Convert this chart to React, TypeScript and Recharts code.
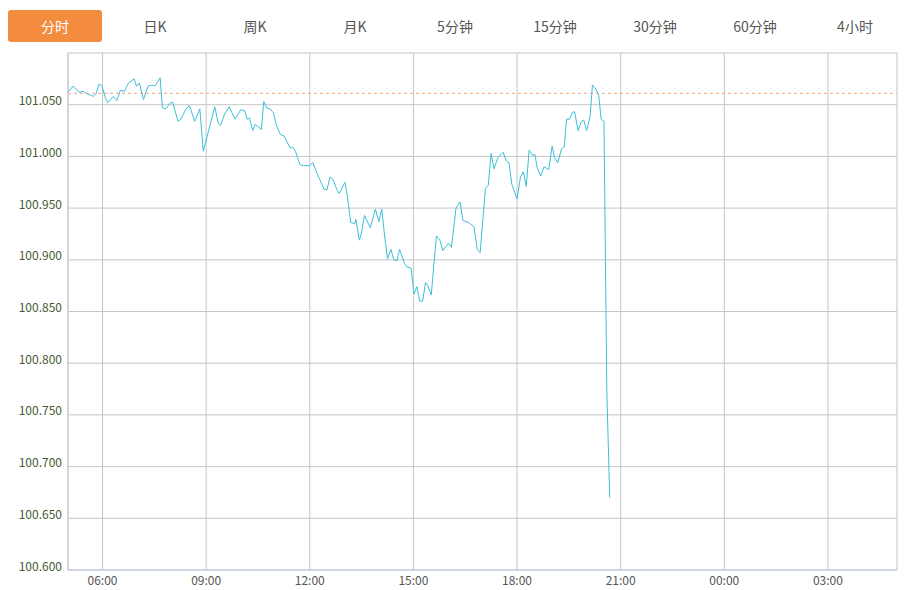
import React from 'react'
import {
  LineChart, Line, XAxis, YAxis, CartesianGrid, ReferenceLine,
} from 'recharts'

/* ────────────────────────────────────────────────────────
   Data (intraday, 05:00 → 05:00 next day)
───────────────────────────────────────────────────────── */
const TABS = ['分时', '日K', '周K', '月K', '5分钟', '15分钟', '30分钟', '60分钟', '4小时']

const times = [
  '05:00', '05:09', '05:19', '05:26', '05:32', '05:44', '05:49', '05:54', '05:59', '06:04',
  '06:09', '06:19', '06:25', '06:31', '06:38', '06:45', '06:55', '06:59', '07:04', '07:11',
  '07:19', '07:26', '07:31', '07:40', '07:44', '07:50', '07:58', '08:02', '08:11', '08:16',
  '08:25', '08:31', '08:40', '08:49', '08:55', '09:15', '09:21', '09:25', '09:32', '09:40',
  '09:50', '10:00', '10:07', '10:11', '10:15', '10:21', '10:25', '10:36', '10:40', '10:45',
  '10:51', '10:57', '11:02', '11:09', '11:15', '11:26', '11:30', '11:35', '11:43', '11:49',
  '12:00', '12:05', '12:17', '12:25', '12:30', '12:35', '12:40', '12:47', '12:51', '13:01',
  '13:05', '13:11', '13:18', '13:20', '13:26', '13:29', '13:35', '13:45', '13:54', '14:00',
  '14:05', '14:10', '14:15', '14:21', '14:26', '14:31', '14:36', '14:45', '14:49', '14:56',
  '15:01', '15:06', '15:11', '15:16', '15:21', '15:25', '15:31', '15:40', '15:46', '15:51',
  '16:01', '16:06', '16:14', '16:21', '16:26', '16:36', '16:45', '16:51', '16:56', '17:05',
  '17:10', '17:15', '17:20', '17:27', '17:36', '17:41', '17:46', '17:51', '18:00', '18:06',
  '18:11', '18:16', '18:21', '18:27', '18:31', '18:35', '18:41', '18:47', '18:55', '19:01',
  '19:05', '19:11', '19:17', '19:22', '19:26', '19:31', '19:37', '19:40', '19:46', '19:52',
  '19:56', '20:01', '20:07', '20:11', '20:17', '20:22', '20:26', '20:31', '20:36', '20:41',
]

const prices = [
  101.062, 101.068, 101.062, 101.063, 101.061, 101.058, 101.061, 101.070, 101.068, 101.058,
  101.052, 101.058, 101.054, 101.064, 101.063, 101.071, 101.075, 101.068, 101.071, 101.055,
  101.068, 101.069, 101.068, 101.076, 101.047, 101.046, 101.052, 101.052, 101.034, 101.036,
  101.046, 101.049, 101.034, 101.046, 101.005, 101.048, 101.032, 101.030, 101.041, 101.048,
  101.036, 101.045, 101.044, 101.036, 101.037, 101.025, 101.031, 101.026, 101.053, 101.047,
  101.046, 101.042, 101.030, 101.021, 101.020, 101.008, 101.009, 101.005, 100.992, 100.991,
  100.991, 100.994, 100.978, 100.968, 100.968, 100.980, 100.978, 100.968, 100.964, 100.975,
  100.963, 100.936, 100.935, 100.939, 100.919, 100.924, 100.943, 100.931, 100.949, 100.937,
  100.949, 100.923, 100.901, 100.910, 100.900, 100.899, 100.910, 100.896, 100.893, 100.892,
  100.867, 100.874, 100.860, 100.860, 100.878, 100.875, 100.866, 100.923, 100.919, 100.909,
  100.916, 100.912, 100.950, 100.956, 100.938, 100.936, 100.932, 100.910, 100.907, 100.969,
  100.972, 101.003, 100.988, 100.999, 101.004, 100.996, 100.994, 100.973, 100.959, 100.980,
  100.985, 100.971, 101.006, 101.001, 101.002, 100.989, 100.981, 100.990, 100.987, 101.010,
  100.999, 100.994, 101.007, 101.009, 101.036, 101.036, 101.043, 101.043, 101.025, 101.034,
  101.035, 101.025, 101.039, 101.069, 101.065, 101.059, 101.036, 101.034, 100.772, 100.670,
]

const PREV_CLOSE = 101.061

const yTicks = [100.6, 100.65, 100.7, 100.75, 100.8, 100.85, 100.9, 100.95, 101.0, 101.05, 101.1]
const xTicks = [60, 240, 420, 600, 780, 960, 1140, 1320, 1440]

/* ────────────────────────────────────────────────────────
   Helpers
───────────────────────────────────────────────────────── */
const toMinutes = (s: string) => {
  const [h, m] = s.split(':').map(Number)
  return ((h - 5 + 24) % 24) * 60 + m
}

const fmtTime = (m: number) => {
  if (m >= 1440) return ''
  const h = Math.floor(5 + m / 60) % 24
  const mm = m % 60
  return `${String(h).padStart(2, '0')}:${String(mm).padStart(2, '0')}`
}

const data = times.map((t, i) => ({ t: toMinutes(t), price: prices[i] }))

const FONT = '"Noto Sans CJK SC", "Noto Sans", sans-serif'
const GRID = '#c6c6c6'
const AXIS = '#b9c8dc'

function YTick({ x, y, payload }: any) {
  if (payload.value > 101.09) return <g />
  return (
    <text x={x} y={y - 5} textAnchor="end" dominantBaseline="central"
      fill="#465a32" fontSize={12} fontFamily={FONT}>
      {Number(payload.value).toFixed(3)}
    </text>
  )
}

/* ────────────────────────────────────────────────────────
   App
───────────────────────────────────────────────────────── */
export default function App() {
  return (
    <div style={{ position: 'absolute', left: 0, top: 0, width: 907, height: 590, background: '#fff' }}>
      {TABS.map((label, i) => (
        <div key={label} style={{
          position: 'absolute', left: 8 + i * 100, top: 10, width: 94, height: 32,
          lineHeight: '32px', textAlign: 'center', fontSize: 14, fontFamily: FONT,
          borderRadius: 3, zIndex: 2,
          background: i === 0 ? '#f38c3f' : 'transparent',
          color: i === 0 ? '#fff' : '#555',
        }}>
          {label}
        </div>
      ))}
      <LineChart width={907} height={590} data={data}
        margin={{ top: 53, right: 10, left: 0, bottom: 0 }}>
        <CartesianGrid stroke={GRID} strokeWidth={1} />
        <XAxis dataKey="t" type="number" domain={[0, 1440]} ticks={xTicks}
          tickFormatter={fmtTime} interval={0} height={20}
          tickLine={false} tickSize={0} tickMargin={6}
          axisLine={{ stroke: AXIS }}
          tick={{ fill: '#555', fontSize: 12, fontFamily: FONT }} />
        <YAxis type="number" domain={[100.6, 101.1]} ticks={yTicks} interval={0}
          width={68} tickLine={false} tickSize={0} tickMargin={6}
          axisLine={{ stroke: AXIS }} tick={<YTick />} />
        <ReferenceLine y={PREV_CLOSE} stroke="#f3a473" strokeDasharray="3 3" />
        <Line type="linear" dataKey="price" stroke="#3cbfd9" strokeWidth={1}
          dot={false} isAnimationActive={false} />
      </LineChart>
    </div>
  )
}
